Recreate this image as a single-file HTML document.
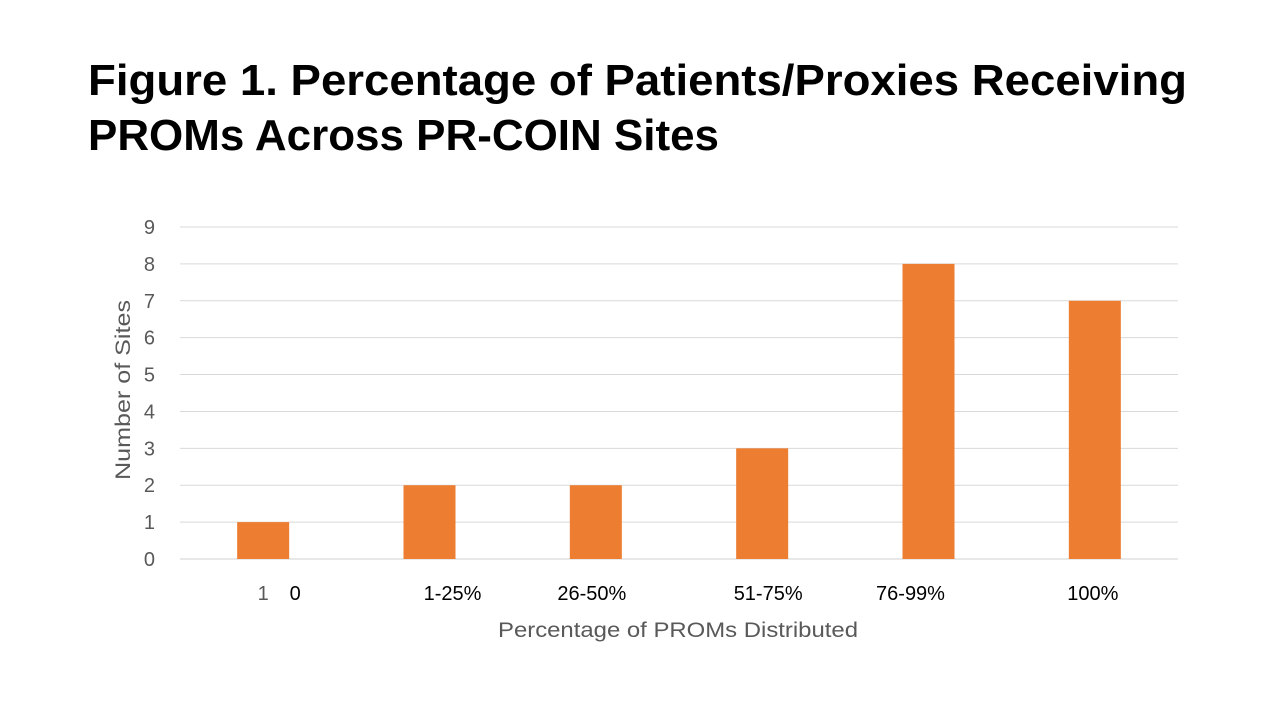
<!DOCTYPE html>
<html><head><meta charset="utf-8"><style>body{margin:0;background:#fff}svg{display:block}</style></head>
<body>
<svg id="c" width="1280" height="720" xmlns="http://www.w3.org/2000/svg" font-family="Liberation Sans, sans-serif">
<text x="88" y="95" font-size="44" font-weight="bold" textLength="1099" lengthAdjust="spacingAndGlyphs">Figure 1. Percentage of Patients/Proxies Receiving</text>
<text x="88" y="150" font-size="44" font-weight="bold" textLength="631" lengthAdjust="spacingAndGlyphs">PROMs Across PR-COIN Sites</text>
<g id="grid"></g><g id="bars"></g><g id="ticks"></g><g id="xl"></g>
<text transform="translate(130,390) rotate(-90)" text-anchor="middle" font-size="21" fill="#595959" textLength="180" lengthAdjust="spacingAndGlyphs">Number of Sites</text>
<text x="678" y="637" text-anchor="middle" font-size="21" fill="#595959" textLength="360" lengthAdjust="spacingAndGlyphs">Percentage of PROMs Distributed</text>
</svg>
<script>
const categories=["0","1-25%","26-50%","51-75%","76-99%","100%"];
const values=[1,2,2,3,8,7];
const yTicks=[0,1,2,3,4,5,6,7,8,9];
const NS="http://www.w3.org/2000/svg";
const x0=180,x1=1178,yB=559,yT=227,yMax=9;
const y=v=>yB-(v/yMax)*(yB-yT);
const band=(x1-x0)/categories.length;
const xc=i=>x0+band*(i+0.5);
function mk(t,a,p){const e=document.createElementNS(NS,t);for(const k in a)e.setAttribute(k,a[k]);document.getElementById(p).appendChild(e);return e;}
yTicks.forEach(v=>{
 const l=mk('line',{x1:x0,x2:x1,y1:y(v),y2:y(v),stroke:v===0?'#d0d0d0':'#d9d9d9','stroke-width':1},'grid');
 
 
 const t=mk('text',{x:155,y:y(v)+7,'text-anchor':'end','font-size':20,fill:'#595959'},'ticks');t.textContent=v;
 
 
});
values.forEach((v,i)=>{
 const b=mk('rect',{x:xc(i)-26,y:y(v),width:52,height:yB-y(v),fill:'#ed7d31'},'bars');
 
 
});
const offs=[32,23,-4,6,-18,-2];
categories.forEach((c,i)=>{
 const t=mk('text',{x:xc(i)+offs[i],y:600,'text-anchor':'middle','font-size':20,fill:'#000'},'xl');t.textContent=c;
 
 
});
const one=mk('text',{x:xc(0),y:600,'text-anchor':'middle','font-size':20,fill:'#595959'},'xl');one.textContent='1';


</script>
</body></html>
